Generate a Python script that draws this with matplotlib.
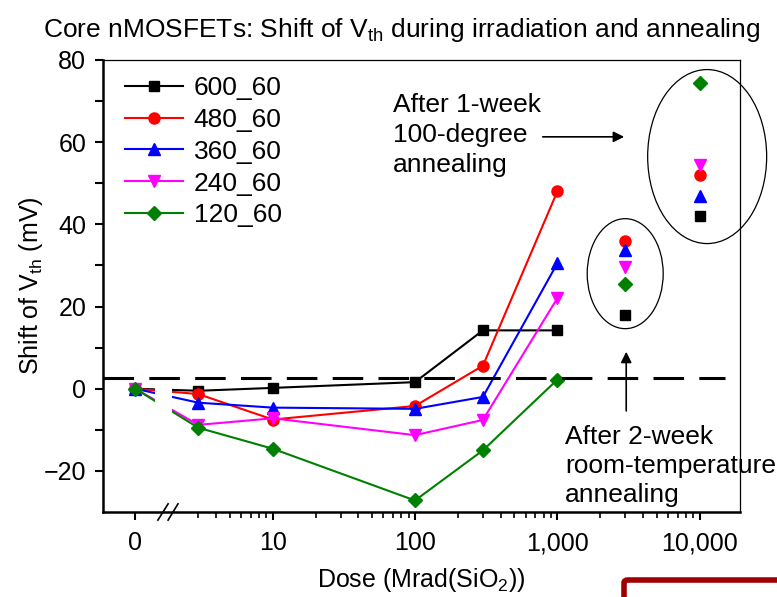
import matplotlib
matplotlib.use("Agg")
import matplotlib.pyplot as plt
import matplotlib.transforms as mtransforms
from matplotlib.patches import Ellipse, FancyBboxPatch
import numpy as np

plt.rcParams['font.family'] = ['Liberation Sans', 'DejaVu Sans']

# Dosis acumulada (Mrad(SiO2)); el 0 se dibuja en una posicion fija del eje log
dosis = [0, 3, 10, 100, 300, 1000]
pos_cero = 1.08

series = ["600_60", "480_60", "360_60", "240_60", "120_60"]
colores = ["black", "red", "blue", "magenta", "green"]
marcadores = ["s", "o", "^", "v", "D"]
tamanos = [7, 8, 8, 8, 7]

# Desplazamiento de Vth (mV) durante la irradiacion
shift_600 = [0.0, -0.5, 0.2, 1.6, 14.2, 14.2]
shift_480 = [0.0, -1.3, -7.5, -4.2, 5.6, 48.0]
shift_360 = [0.0, -3.4, -4.6, -4.9, -2.0, 30.5]
shift_240 = [0.0, -8.8, -7.2, -11.3, -7.6, 22.0]
shift_120 = [0.0, -9.5, -14.6, -27.2, -15.0, 2.2]
shifts = [shift_600, shift_480, shift_360, shift_240, shift_120]

# Recocido 2 semanas a temperatura ambiente y 1 semana a 100 grados
dosis_recocido_ta = 3000
recocido_ta = [18.0, 36.0, 33.8, 29.6, 25.4]
dosis_recocido_100 = 10000
recocido_100 = [42.0, 52.0, 46.8, 54.4, 74.4]

umbral = 2.7

fig = plt.figure(figsize=(7.77, 5.97), dpi=100)
ax = fig.add_axes([0.1326, 0.1424, 0.8198, 0.7571])
ax.set_xscale('log')
ax.set_xlim(0.642, 19230)
ax.set_ylim(-30, 80)

x_plot = [pos_cero if d == 0 else d for d in dosis]
for nombre, ys, c, m, ms in zip(series, shifts, colores, marcadores, tamanos):
    ax.plot(x_plot, ys, color=c, marker=m, markersize=ms, lw=1.5, label=nombre,
            zorder=2)
# markers del recocido (sin linea)
for i, (c, m, ms) in enumerate(zip(colores, marcadores, tamanos)):
    ax.plot(dosis_recocido_ta, recocido_ta[i], color=c, marker=m, markersize=ms,
            ls='none', zorder=3)
    ax.plot(dosis_recocido_100, recocido_100[i], color=c, marker=m, markersize=ms,
            ls='none', zorder=3)

# Corte del eje: franja blanca sobre las lineas y marcas //
ax.axvspan(1.49, 1.96, ymin=0.005, ymax=1, color='white', zorder=2.2, lw=0)
tr = mtransforms.blended_transform_factory(ax.transData, ax.transAxes)
for x0, x1 in [(1.56, 1.84), (1.84, 2.16)]:
    ax.plot([x0, x1], [-0.018, 0.018], color='black', lw=1.2, transform=tr,
            clip_on=False, zorder=4)

# Linea de referencia discontinua
ax.axhline(umbral, xmin=0, xmax=0.976, color='black', lw=2.2, dashes=(10, 5),
           zorder=3)

# Elipses alrededor de los puntos de recocido
def a_ejes(x, y):
    return ax.transAxes.inverted().transform(ax.transData.transform((x, y)))

c1 = a_ejes(dosis_recocido_ta, 28)
ax.add_patch(Ellipse(c1, 76 / 637, 110 / 452, transform=ax.transAxes,
                     fill=False, ec='black', lw=0.9, clip_on=False))
c2 = a_ejes(dosis_recocido_100 * 1.13, 56.5)
ax.add_patch(Ellipse(c2, 119 / 637, 174 / 452, transform=ax.transAxes,
                     fill=False, ec='black', lw=0.9, clip_on=False))

# Anotaciones
ax.annotate("", xy=(2950, 61.3), xytext=(790, 61.3),
            arrowprops=dict(arrowstyle='-|>', color='black', lw=1.2,
                            mutation_scale=16, shrinkA=0, shrinkB=0))
ax.text(70, 61.7, "After 1-week\n100-degree\nannealing", fontsize=19,
        ha='left', va='center', linespacing=1.3)
ax.annotate("", xy=(3050, 9.0), xytext=(3050, -5.4),
            arrowprops=dict(arrowstyle='-|>', color='black', lw=1.2,
                            mutation_scale=16, shrinkA=0, shrinkB=0))
ax.text(1135, -18.8, "After 2-week\nroom-temperature\nannealing", fontsize=19,
        ha='left', va='center', linespacing=1.25)

# Ejes y ticks
ax.set_xticks([pos_cero, 10, 100, 1000, 10000])
ax.set_xticklabels(["0", "10", "100", "1,000", "10,000"])
menores = [k * 10 ** e for e in range(0, 4) for k in range(2, 10)]
menores = [v for v in menores if v >= 3]
ax.set_xticks(menores, minor=True)
ax.set_xticklabels([], minor=True)
ax.set_yticks([-20, 0, 20, 40, 60, 80])
ax.set_yticks([-10, 10, 30, 50, 70], minor=True)
ax.tick_params(axis='both', which='major', labelsize=18, direction='out',
               length=6, width=1.5, pad=6)
ax.tick_params(axis='x', which='major', pad=8)
ax.tick_params(axis='x', which='minor', direction='out', length=4, width=1.2)
ax.tick_params(axis='y', which='minor', direction='out', length=6, width=1.5)
ax.tick_params(top=False, right=False, which='both')
for lado in ['left', 'bottom']:
    ax.spines[lado].set_linewidth(1.8)
for lado in ['top', 'right']:
    ax.spines[lado].set_linewidth(0.9)

ax.set_ylabel("Shift of V$_{\\mathregular{th}}$ (mV)", fontsize=18, labelpad=-1)
fig.text(0.542, 0.028, "Dose (Mrad(SiO$_\\mathregular{2}$))", fontsize=18,
         ha='center', va='center')
fig.text(0.517, 0.95, "Core nMOSFETs: Shift of V$_{\\mathregular{th}}$ during "
         "irradiation and annealing", fontsize=19, ha='center', va='center')

ax.legend(loc='upper left', frameon=False, fontsize=19, handlelength=2.2,
          borderaxespad=0.2, labelspacing=0.3, handletextpad=0.4,
          bbox_to_anchor=(0.01, 1.0))

# Marco rojo inferior derecho
fig.patches.append(FancyBboxPatch((624 / 777, -0.1), 0.3, (597 - 580) / 597 + 0.1,
                                  boxstyle='round,pad=0,rounding_size=0.005',
                                  transform=fig.transFigure, fill=False,
                                  ec='#a00000', lw=4))

fig.savefig("out.png", dpi=100)
